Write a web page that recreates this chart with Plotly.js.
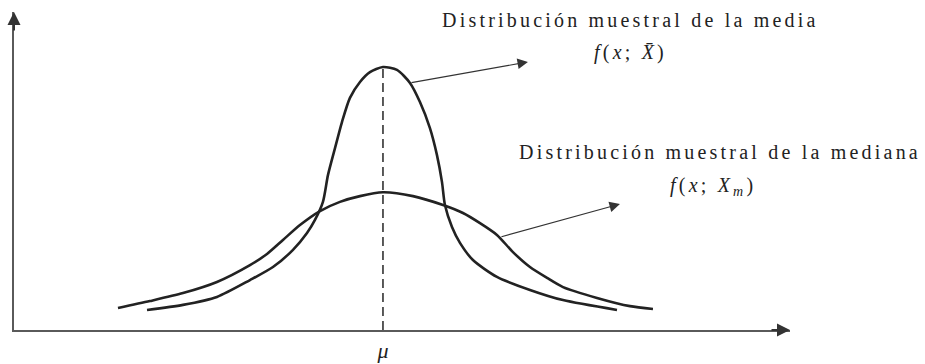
<!DOCTYPE html>
<html>
<head>
<meta charset="utf-8">
<script src="https://cdn.plot.ly/plotly-3.0.1.min.js"></script>
<style>
  html, body { margin: 0; padding: 0; background: #fff; }
  #chart { width: 925px; height: 364px; }
  .annotation-text { letter-spacing: 3.2px; }
</style>
</head>
<body>
<div id="chart"></div>
<script>
// Position in units of spread around mu (mu = 0); height in relative density units
const mu = 0;

// Distribución muestral de la mediana (wide curve)
const medianX = [-3.955, -3.478, -2.985, -2.478, -1.985, -1.731, -1.493, -1.239, -0.940, -0.642, -0.343, 0,
                 0.448, 0.896, 1.194, 1.448, 1.701, 1.940, 2.194, 2.448, 2.687, 3.194, 3.687, 4.030];
const medianY = [0.069, 0.091, 0.116, 0.151, 0.204, 0.239, 0.283, 0.330, 0.374, 0.403, 0.421, 0.433,
                 0.421, 0.393, 0.368, 0.336, 0.299, 0.245, 0.198, 0.164, 0.135, 0.101, 0.075, 0.066];

// Distribución muestral de la media (narrow curve)
const meanX = [-3.522, -2.985, -2.478, -1.985, -1.642, -1.343, -1.134, -1.015, -0.896, -0.821, -0.716, -0.612,
               -0.493, -0.343, -0.194, 0, 0.209, 0.403, 0.552, 0.701, 0.806, 0.881, 0.925, 1.030, 1.149, 1.343,
               1.701, 2.194, 2.687, 3.493];
const meanY = [0.063, 0.079, 0.104, 0.157, 0.198, 0.252, 0.305, 0.346, 0.403, 0.487, 0.572, 0.654,
               0.730, 0.780, 0.811, 0.827, 0.818, 0.777, 0.717, 0.635, 0.550, 0.465, 0.393, 0.324, 0.274, 0.220,
               0.167, 0.126, 0.094, 0.063];

const meanPeak = 0.827;

const labelMean = ['Distribución muestral de la media', '<i>f</i>(<i>x</i>; <i>X\u0304</i>)'];
const labelMedian = ['Distribución muestral de la mediana', '<i>f</i>(<i>x</i>; <i>X</i><sub><i>m</i></sub>)'];
const tickLabels = ['<i>μ</i>'];

const ink = '#222';
const axisInk = '#5a5a5a';
const serif = '"Liberation Serif", "DejaVu Serif", serif';

const traces = [
  { x: medianX, y: medianY, mode: 'lines', line: { color: ink, width: 2.6, shape: 'spline', smoothing: 0.7 }, hoverinfo: 'skip' },
  { x: meanX, y: meanY, mode: 'lines', line: { color: ink, width: 2.6, shape: 'spline', smoothing: 0.7 }, hoverinfo: 'skip' },
  { x: [mu, mu], y: [0, meanPeak], mode: 'lines', line: { color: '#333', width: 1.6, dash: '9px,5px' }, hoverinfo: 'skip' }
];

const layout = {
  width: 925, height: 364,
  margin: { l: 14, r: 135, t: 12, b: 34 },
  paper_bgcolor: '#fff', plot_bgcolor: '#fff',
  showlegend: false,
  xaxis: {
    range: [-5.507, 6.075], showgrid: false, zeroline: false,
    showline: true, linecolor: axisInk, linewidth: 2,
    tickvals: [mu], ticktext: tickLabels, ticks: '',
    tickfont: { family: serif, size: 22, color: '#222' }
  },
  yaxis: {
    range: [0, 1], showgrid: false, zeroline: false,
    showline: true, linecolor: axisInk, linewidth: 2,
    showticklabels: false, ticks: ''
  },
  annotations: [
    // axis arrowheads
    { xref: 'paper', yref: 'paper', x: 1, y: 0, ax: -20, ay: 0, text: '', showarrow: true,
      arrowhead: 2, arrowsize: 1.3, arrowwidth: 2, arrowcolor: '#333', standoff: 0 },
    { xref: 'paper', yref: 'paper', x: 0, y: 1, ax: 0, ay: 20, text: '', showarrow: true,
      arrowhead: 2, arrowsize: 1.3, arrowwidth: 2, arrowcolor: '#333', standoff: 0 },
    // pointer arrows
    { x: 2.164, y: 0.843, ax: 0.403, ay: 0.777, axref: 'x', ayref: 'y', text: '', showarrow: true,
      arrowhead: 2, arrowsize: 1.9, arrowwidth: 1.1, arrowcolor: '#333', standoff: 0 },
    { x: 3.537, y: 0.396, ax: 1.746, ay: 0.292, axref: 'x', ayref: 'y', text: '', showarrow: true,
      arrowhead: 2, arrowsize: 1.9, arrowwidth: 1.1, arrowcolor: '#333', standoff: 0 },
    // labels
    { x: 3.70, y: 0.975, text: labelMean[0], showarrow: false, xanchor: 'center', yanchor: 'middle',
      font: { family: serif, size: 20, color: '#222' } },
    { x: 3.70, y: 0.872, text: labelMean[1], showarrow: false, xanchor: 'center', yanchor: 'middle',
      font: { family: serif, size: 20, color: '#222' } },
    { x: 5.03, y: 0.560, text: labelMedian[0], showarrow: false, xanchor: 'center', yanchor: 'middle',
      font: { family: serif, size: 20, color: '#222' } },
    { x: 4.92, y: 0.450, text: labelMedian[1], showarrow: false, xanchor: 'center', yanchor: 'middle',
      font: { family: serif, size: 20, color: '#222' } }
  ]
};

Plotly.newPlot('chart', traces, layout, { displayModeBar: false, staticPlot: true });
</script>
</body>
</html>
